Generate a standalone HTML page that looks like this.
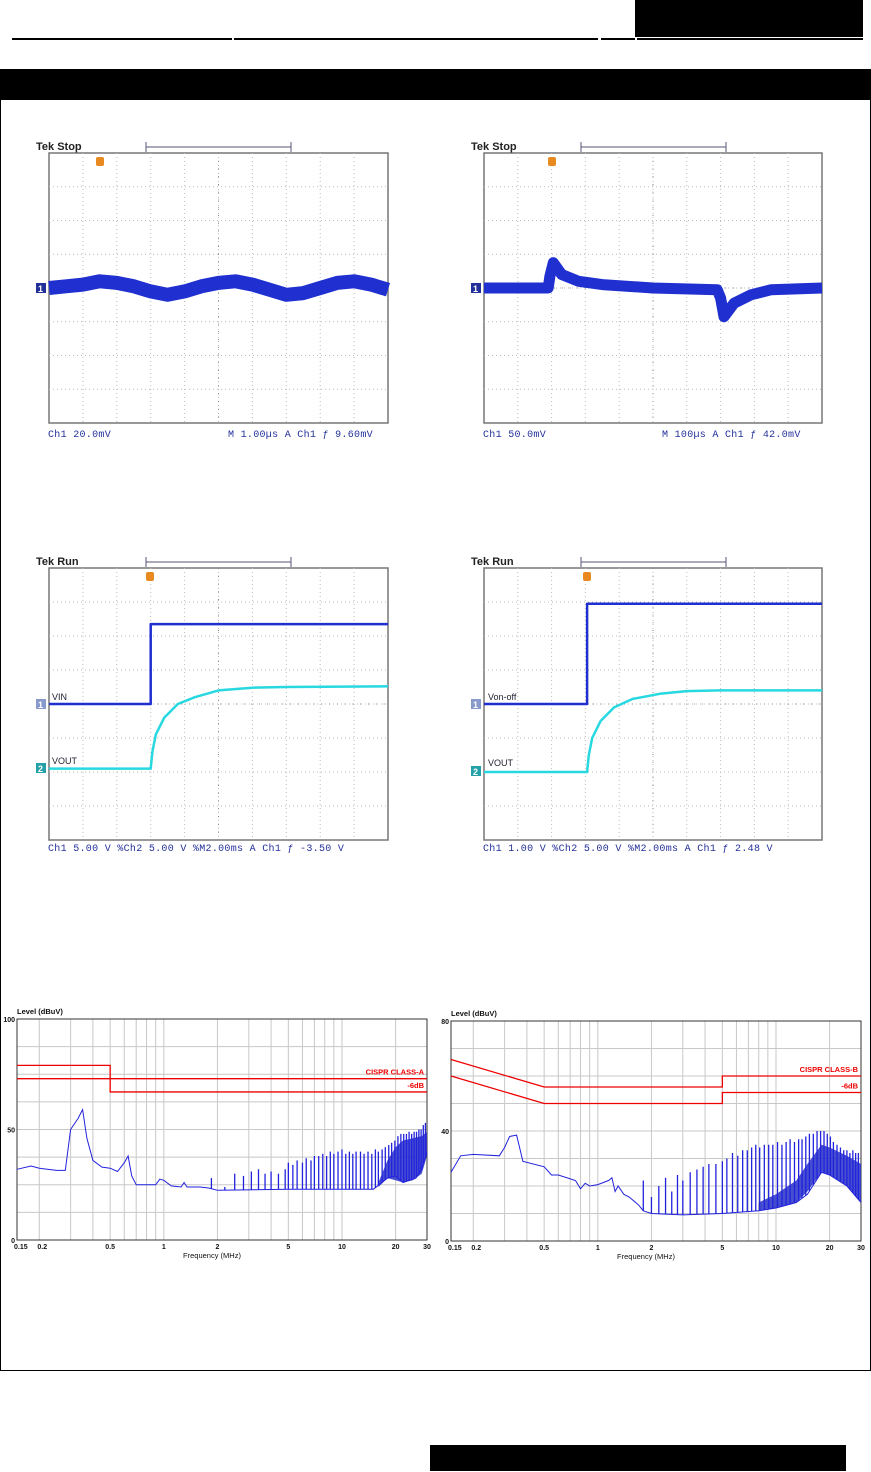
<!DOCTYPE html>
<html><head><meta charset="utf-8">
<style>
html,body{margin:0;padding:0;background:#fff;}
body{width:871px;height:1472px;position:relative;overflow:hidden;font-family:"Liberation Sans",sans-serif;}
svg{position:absolute;left:0;top:0;}
</style></head>
<body>
<svg id="page" width="871" height="1472" viewBox="0 0 871 1472">
  <rect x="635" y="0" width="228" height="37" fill="#000"/>
  <g stroke="#000" stroke-width="2">
    <line x1="12" y1="39" x2="232" y2="39"/><line x1="234" y1="39" x2="598" y2="39"/>
    <line x1="601" y1="39" x2="635" y2="39"/><line x1="637" y1="39" x2="863" y2="39"/>
  </g>
  <rect x="0" y="69" width="871" height="31" fill="#000"/>
  <path d="M0.5 99 V1370.5 H870.5 V99" fill="none" stroke="#000" stroke-width="1"/>
  <rect x="430" y="1445" width="416" height="26" fill="#000"/>
  <g id="charts"></g>
</svg>
<script>
// ---------- data ----------
const s1Times=[0,0.5,1,1.5,2,2.5,3,3.5,4,4.5,5,5.5,6,6.5,7,7.5,8,8.5,9,9.5,10];
const s1Vals=[0,0.05,0.1,0.2,0.15,0.05,-0.1,-0.2,-0.1,0.05,0.15,0.2,0.1,-0.05,-0.2,-0.15,0,0.15,0.2,0.1,-0.05];
const s2Times=[0,1.9,1.95,2.05,2.3,2.8,3.5,5,6.9,7.0,7.1,7.4,7.9,8.5,10];
const s2Vals=[0,0,0.35,0.75,0.4,0.2,0.1,0,-0.05,-0.3,-0.85,-0.45,-0.2,-0.05,0];
const s3Ch1Times=[0,3.0,3.0,10];
const s3Ch1Vals=[0,0,2.35,2.35];
const s3Ch2Times=[0,3.0,3.05,3.15,3.4,3.8,4.3,5,6,7,10];
const s3Ch2Vals=[-1.9,-1.9,-1.4,-0.9,-0.4,0,0.2,0.4,0.48,0.5,0.52];
const s4Ch1Times=[0,3.05,3.05,10];
const s4Ch1Vals=[0,0,2.95,2.95];
const s4Ch2Times=[0,3.05,3.1,3.2,3.45,3.85,4.4,5.2,6,7,10];
const s4Ch2Vals=[-2.0,-2.0,-1.5,-1.0,-0.5,-0.1,0.15,0.3,0.38,0.4,0.4];

const emiAFreq=[0.15,0.18,0.2,0.25,0.28,0.3,0.33,0.35,0.37,0.4,0.45,0.5,0.55,0.6,0.63,0.66,0.7,0.8,0.9,0.95,1.0,1.1,1.25,1.3,1.35,1.6,1.8,2.0,5,10,15,18,20,22,26,28,30];
const emiALevel=[32,33.5,32.5,31.5,31.5,50,55,59,46,36,33,32.5,31,35,38,29,25,25,25,27.5,27,24.5,24,26,24,24,23.5,22.5,23,23,23,28,29,26,28,32,40];
const emiASpikeF=[1.85,2.2,2.5,2.8,3.1,3.4,3.7,4.0,4.4,4.8,5.0,5.3,5.6,6.0,6.3,6.7,7.0,7.4,7.8,8.2,8.6,9.0,9.5,10,10.5,11,11.5,12,12.7,13.3,14,14.7,15.4,16,16.8,17.5,18.3,19,19.8,20.6,21.4,22.2,23,23.8,24.6,25.4,26.2,27,27.8,28.6,29.4];
const emiASpikeL=[28,24,30,29,31,32,30,31,30,32,35,34,36,35,37,36,38,38,39,38,40,39,40,41,39,40,39,40,40,39,40,39,41,40,41,42,43,44,45,47,48,48,48,49,48,49,49,50,50,52,53];
const emiABandF=[16,18,20,22,25,28,30];
const emiABandLow=[24,28,27,26,27,30,38];
const emiABandHigh=[26,36,42,45,46,47,49];
const emiALimit=[79,79,73,73];
const emiALimitF=[0.15,0.5,0.5,30];
const emiAMargin=[73,73,67,67];
const emiAMarginF=[0.15,0.5,0.5,30];

const emiBFreq=[0.15,0.17,0.2,0.28,0.3,0.32,0.35,0.38,0.5,0.55,0.6,0.75,0.8,0.85,0.9,1.0,1.15,1.2,1.25,1.3,1.4,1.5,1.7,1.8,2,3,5,8,10,13,15,18,20,25,30];
const emiBLevel=[25,31,31.5,31,34,38,38.5,29,27,24,24,22,19,21,20,20.5,22,23,18,20,17,16,13,11,10,9.5,10,11,12,14,17,25,24,20,14];
const emiBSpikeF=[1.8,2.0,2.2,2.4,2.6,2.8,3.0,3.3,3.6,3.9,4.2,4.6,5,5.3,5.7,6.1,6.5,6.9,7.3,7.7,8.1,8.6,9.1,9.6,10.2,10.8,11.4,12,12.7,13.4,14,14.7,15.4,16.2,17,17.8,18.6,19.4,20.2,21,22,23,24,25,26,27,28,29];
const emiBSpikeL=[22,16,20,23,18,24,22,25,26,27,28,28,29,30,32,31,33,33,34,35,34,35,35,35,36,35,36,37,36,37,37,38,39,39,40,40,40,39,38,36,35,34,33,33,32,33,32,32];
const emiBBandF=[8,10,13,15,18,20,25,30];
const emiBBandLow=[11,12,14,18,25,24,20,14];
const emiBBandHigh=[14,17,22,28,35,34,31,28];
const emiBLimit=[66,56,56,60,60];
const emiBLimitF=[0.15,0.5,5,5,30];
const emiBMargin=[60,50,50,54,54];
const emiBMarginF=[0.15,0.5,5,5,30];
const emiTicks=["0.15","0.2","0.5","1","2","5","10","20","30"];
const emiTickF=[0.15,0.2,0.5,1,2,5,10,20,30];
const emiGridF=[0.2,0.3,0.4,0.5,0.6,0.7,0.8,0.9,1,2,3,4,5,6,7,8,9,10,20];

// ---------- helpers ----------
const NS="http://www.w3.org/2000/svg";
const root=document.getElementById('charts');
function mk(tag,attrs,parent){const e=document.createElementNS(NS,tag);for(const k in attrs)e.setAttribute(k,attrs[k]);(parent||root).appendChild(e);return e;}
function txt(x,y,s,attrs,parent){const t=mk('text',Object.assign({x:x,y:y},attrs),parent);t.textContent=s;return t;}

function scope(x0,y0,w,h,title,name){
  const g=mk('g',{});
  
  
  const dx=w/10,dy=h/8;
  const frame=mk('rect',{x:x0,y:y0,width:w,height:h,fill:'#fff',stroke:'#777','stroke-width':1.5},g);
  
  
  for(let i=1;i<10;i++){const l=mk('line',{x1:x0+i*dx,y1:y0,x2:x0+i*dx,y2:y0+h,stroke:'#bbb','stroke-dasharray':'1 3'},g);
    
    }
  for(let j=1;j<8;j++){const l=mk('line',{x1:x0,y1:y0+j*dy,x2:x0+w,y2:y0+j*dy,stroke:'#bbb','stroke-dasharray':'1 3'},g);
    
    }
  const cx=mk('line',{x1:x0+5*dx,y1:y0,x2:x0+5*dx,y2:y0+h,stroke:'#888','stroke-dasharray':'1 6.75'},g);
  
  
  const cy=mk('line',{x1:x0,y1:y0+4*dy,x2:x0+w,y2:y0+4*dy,stroke:'#888','stroke-dasharray':'1 6.78'},g);
  
  
  const t=txt(x0-13,y0-3,title,{'font-size':11,fill:'#222','font-weight':'bold'},g);
  
  
  const bar=mk('path',{d:`M${x0+97} ${y0-6} h145 M${x0+97} ${y0-11} v10 M${x0+242} ${y0-11} v10`,stroke:'#557',fill:'none','stroke-width':1},g);
  
  
  return {g:g,sx:v=>x0+v*dx,sy:v=>y0+4*dy-v*dy,dx:dx,dy:dy};
}
function trace(sc,times,vals,color,width,name){
  const pts=times.map((t,i)=>sc.sx(t).toFixed(1)+','+sc.sy(vals[i]).toFixed(1)).join(' ');
  const p=mk('polyline',{points:pts,fill:'none',stroke:color,'stroke-width':width,'stroke-linejoin':'round'},sc.g);
  
  
  return p;
}
function bottomText(sc,x,y,s,color,name){
  const t=txt(x,y,s,{'font-size':10,fill:color,'font-family':'"Liberation Mono",monospace','letter-spacing':'0.3'},sc.g);
  
  
}
function trig(sc,x,y){
  const c=mk('rect',{x:x-4,y:y,width:8,height:9,rx:2,fill:'#e88a20'},sc.g);
  
  
}
function chMark(sc,x,y,label,color,name){
  const r=mk('rect',{x:x,y:y-5,width:10,height:10,fill:color},sc.g);
  
  
  const t=txt(x+2,y+4,label,{'font-size':9,fill:'#fff','font-weight':'bold'},sc.g);
  
  
}

const B='#1f2fd0',C='#27d8e0',BT='#23309a';
let sc=scope(49,153,339,270,'Tek Stop','scope-ripple');
trace(sc,s1Times,s1Vals,B,14,'ripple-trace');
trig(sc,100,157);chMark(sc,36,288,'1',BT,'ch1-ground-marker');
bottomText(sc,48,437,'Ch1  20.0mV',BT,'ch1-scale');
bottomText(sc,228,437,'M 1.00µs  A  Ch1 ƒ  9.60mV',BT,'timebase-readout');

sc=scope(484,153,338,270,'Tek Stop','scope-transient');
trace(sc,s2Times,s2Vals,B,11,'transient-trace');
trig(sc,552,157);chMark(sc,471,288,'1',BT,'ch1-ground-marker');
bottomText(sc,483,437,'Ch1  50.0mV',BT,'ch1-scale');
bottomText(sc,662,437,'M 100µs  A  Ch1 ƒ  42.0mV',BT,'timebase-readout');

sc=scope(49,568,339,272,'Tek Run','scope-startup');
trace(sc,s3Ch1Times,s3Ch1Vals,B,2.5,'vin-trace');
trace(sc,s3Ch2Times,s3Ch2Vals,C,2.5,'vout-trace');
trig(sc,150,572);chMark(sc,36,704,'1','#8899cc','ch1-marker');chMark(sc,36,768,'2','#23a0a8','ch2-marker');
txt(52,700,'VIN',{'font-size':9,fill:'#223'},sc.g);
txt(52,764,'VOUT',{'font-size':9,fill:'#223'},sc.g);
bottomText(sc,48,851,'Ch1  5.00 V  %Ch2  5.00 V  %M2.00ms  A  Ch1 ƒ -3.50 V',BT,'scale-readout');

sc=scope(484,568,338,272,'Tek Run','scope-remote');
trace(sc,s4Ch1Times,s4Ch1Vals,B,2.5,'vonoff-trace');
trace(sc,s4Ch2Times,s4Ch2Vals,C,2.5,'vout-trace');
trig(sc,587,572);chMark(sc,471,704,'1','#8899cc','ch1-marker');chMark(sc,471,771,'2','#23a0a8','ch2-marker');
txt(488,700,'Von-off',{'font-size':9,fill:'#223'},sc.g);
txt(488,766,'VOUT',{'font-size':9,fill:'#223'},sc.g);
bottomText(sc,483,851,'Ch1  1.00 V  %Ch2  5.00 V  %M2.00ms  A  Ch1 ƒ  2.48 V',BT,'scale-readout');

function emi(x0,y0,w,h,ymax,ystep,ticksY,name,freq,lev,spF,spL,bF,bLo,bHi,limF,lim,marF,mar,limLabel){
  const g=mk('g',{});
  
  
  const fx=f=>x0+Math.log(f/0.15)/Math.log(200)*w;
  const fy=v=>y0+h-v/ymax*h;
  mk('rect',{x:x0,y:y0,width:w,height:h,fill:'#fff'},g);
  for(let v=ystep;v<ymax;v+=ystep){const l=mk('line',{x1:x0,y1:fy(v),x2:x0+w,y2:fy(v),stroke:'#c8c8c8'},g);
    
    }
  emiGridF.forEach(f=>{const l=mk('line',{x1:fx(f),y1:y0,x2:fx(f),y2:y0+h,stroke:'#c8c8c8'},g);
    
    });
  const fr=mk('rect',{x:x0,y:y0,width:w,height:h,fill:'none',stroke:'#333'},g);
  
  
  const lp=mk('polyline',{points:limF.map((f,i)=>fx(f)+','+fy(lim[i])).join(' '),fill:'none',stroke:'#e00','stroke-width':1.3},g);
  
  
  const mp=mk('polyline',{points:marF.map((f,i)=>fx(f)+','+fy(mar[i])).join(' '),fill:'none',stroke:'#e00','stroke-width':1.3},g);
  
  
  const bandPts=bF.map((f,i)=>fx(f).toFixed(1)+','+fy(bHi[i]).toFixed(1)).concat(bF.slice().reverse().map((f,i)=>fx(f).toFixed(1)+','+fy(bLo[bLo.length-1-i]).toFixed(1))).join(' ');
  const bp=mk('polygon',{points:bandPts,fill:'#2630c8','fill-opacity':0.85},g);
  
  
  const ep=mk('polyline',{points:freq.map((f,i)=>fx(f).toFixed(1)+','+fy(lev[i]).toFixed(1)).join(' '),fill:'none',stroke:'#22d','stroke-width':1},g);
  
  
  const base=f=>{for(let i=1;i<freq.length;i++){if(f<=freq[i]){const t=(Math.log(f)-Math.log(freq[i-1]))/(Math.log(freq[i])-Math.log(freq[i-1]));return lev[i-1]+t*(lev[i]-lev[i-1]);}}return lev[lev.length-1];};
  spF.forEach((f,i)=>{const s=mk('line',{x1:fx(f),y1:fy(base(f)),x2:fx(f),y2:fy(spL[i]),stroke:'#22d','stroke-width':1.3},g);
    
    });
  const yl=txt(x0,y0-5,'Level (dBuV)',{'font-size':7.5,'font-weight':'bold',fill:'#111'},g);
  
  
  ticksY.forEach(v=>{const t=txt(x0-2,fy(v)+3,String(v),{'font-size':7,'font-weight':'bold','text-anchor':'end',fill:'#111'},g);
    
    });
  emiTicks.forEach((s,i)=>{const f=emiTickF[i];let xx=fx(f);let anchor='middle';if(i===0){xx=x0-3;anchor='start';}if(i===1)xx+=3;
    const t=txt(xx,y0+h+9,s,{'font-size':7,'font-weight':'bold','text-anchor':anchor,fill:'#111'},g);
    
    });
  const xt=txt(x0+w/2-10,y0+h+18,'Frequency (MHz)',{'font-size':7.5,'text-anchor':'middle',fill:'#111'},g);
  
  
  const ll=txt(x0+w-3,fy(lim[lim.length-1])-4,limLabel,{'font-size':7.5,'font-weight':'bold','text-anchor':'end',fill:'#e00'},g);
  
  
  const ml=txt(x0+w-3,fy(mar[mar.length-1])-4,'-6dB',{'font-size':7.5,'font-weight':'bold','text-anchor':'end',fill:'#e00'},g);
  
  
}
emi(17,1019,410,221,100,12.5,[100,50,0],'emi-class-a-chart',emiAFreq,emiALevel,emiASpikeF,emiASpikeL,emiABandF,emiABandLow,emiABandHigh,emiALimitF,emiALimit,emiAMarginF,emiAMargin,'CISPR CLASS-A');
emi(451,1021,410,220,80,10,[80,40,0],'emi-class-b-chart',emiBFreq,emiBLevel,emiBSpikeF,emiBSpikeL,emiBBandF,emiBBandLow,emiBBandHigh,emiBLimitF,emiBLimit,emiBMarginF,emiBMargin,'CISPR CLASS-B');
</script>
</body></html>
